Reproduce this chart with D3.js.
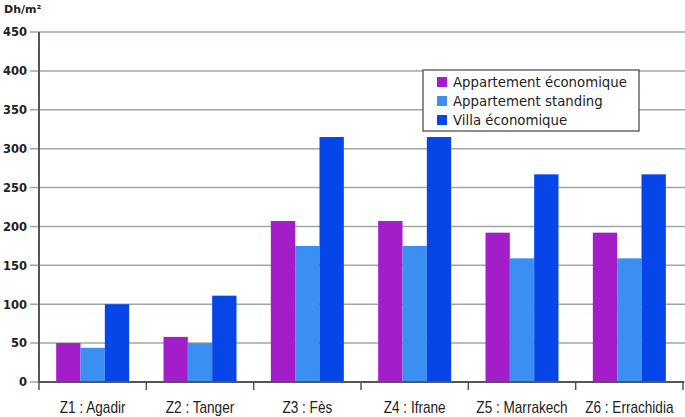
<!DOCTYPE html>
<html><head><meta charset="utf-8">
<script src="https://cdn.jsdelivr.net/npm/d3@7"></script>
<style>body{margin:0;background:#fff}svg{display:block}</style>
</head><body>
<svg id="c" width="685" height="417"></svg>
<script>
const categories = ["Z1 : Agadir","Z2 : Tanger","Z3 : Fès","Z4 : Ifrane","Z5 : Marrakech","Z6 : Errachidia"];
const seriesNames = ["Appartement économique","Appartement standing","Villa économique"];
const apptEco = [50, 58, 207, 207, 192, 192];
const apptStanding = [44, 50, 175, 175, 159, 159];
const villaEco = [100, 111, 315, 315, 267, 267];
const yTicks = [0,50,100,150,200,250,300,350,400,450];
const colors = ["#a31dc9","#3b8ff3","#0645e8"];
const seriesValues = [apptEco, apptStanding, villaEco];

const svg = d3.select("#c");
const x0 = 39, x1 = 683, yTop = 32, yBot = 382;
const x = d3.scaleBand().domain(categories).range([x0, x1]).paddingInner(0.32).paddingOuter(0.16);
const xs = d3.scaleBand().domain(seriesNames).range([0, x.bandwidth()]);
const y = d3.scaleLinear().domain([0, 450]).range([yBot, yTop]);

// gridlines
svg.append("g").selectAll("line").data(yTicks).join("line")
  .attr("x1", 30).attr("x2", 685)
  .attr("y1", d => y(d)).attr("y2", d => y(d))
  .attr("stroke", "#9ea8a6").attr("stroke-width", 1.5);

// y labels
svg.append("g").selectAll("text").data(yTicks).join("text")
  .attr("x", 27).attr("y", d => y(d) + 4.3)
  .attr("text-anchor", "end")
  .attr("font-family", "DejaVu Sans, sans-serif")
  .attr("font-weight", "bold").attr("font-size", 11.5).attr("fill", "#222")
  .text(d => d);

svg.append("text").attr("x", 4).attr("y", 13)
  .attr("font-family", "DejaVu Sans, sans-serif")
  .attr("font-weight", "bold").attr("font-size", 11).attr("fill", "#222")
  .text("Dh/m²");

// bars
const groups = svg.append("g").selectAll("g").data(categories).join("g")
  .attr("transform", d => `translate(${x(d)},0)`);
groups.selectAll("rect").data((c, i) => seriesNames.map((s, j) => ({s, v: seriesValues[j][i], j})))
  .join("rect")
  .attr("x", d => xs(d.s)).attr("width", xs.bandwidth())
  .attr("y", d => y(d.v)).attr("height", d => yBot - y(d.v))
  .attr("fill", d => colors[d.j]);

// axes lines
svg.append("line").attr("x1", x0).attr("x2", x0).attr("y1", yTop).attr("y2", yBot + 1)
  .attr("stroke", "#555").attr("stroke-width", 2);
svg.append("line").attr("x1", x0).attr("x2", x1 + 1).attr("y1", yBot).attr("y2", yBot)
  .attr("stroke", "#555").attr("stroke-width", 2);
const bounds = categories.map(c => x(c) - x.step() * x.paddingInner() / 2);
bounds.push(x1);
svg.append("g").selectAll("line").data(bounds).join("line")
  .attr("x1", d => d).attr("x2", d => d).attr("y1", yBot).attr("y2", yBot + 8)
  .attr("stroke", "#555").attr("stroke-width", 1.5);

// x labels
svg.append("g").selectAll("text").data(categories).join("text")
  .attr("transform", d => `translate(${x(d) + x.bandwidth() / 2},413) scale(0.85,1)`)
  .attr("text-anchor", "middle")
  .attr("font-family", "Liberation Sans, Arial, sans-serif")
  .attr("font-size", 16).attr("fill", "#222")
  .text(d => d);

// legend
const lg = svg.append("g");
lg.append("rect").attr("x", 423).attr("y", 70).attr("width", 216).attr("height", 61)
  .attr("fill", "#fff").attr("stroke", "#444").attr("stroke-width", 1.2);
const li = lg.selectAll("g").data(seriesNames).join("g")
  .attr("transform", (d, i) => `translate(437,${77 + i * 19})`);
li.append("rect").attr("width", 10).attr("height", 10).attr("fill", (d, i) => colors[i]);
li.append("text").attr("x", 16).attr("y", 10)
  .attr("font-family", "DejaVu Sans, sans-serif")
  .attr("font-size", 13.3).attr("fill", "#222")
  .text(d => d);
</script>
</body></html>
